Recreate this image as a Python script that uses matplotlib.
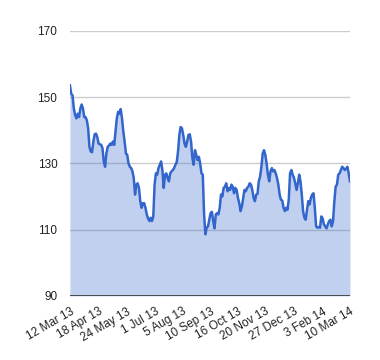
import matplotlib
matplotlib.use("Agg")
import matplotlib.pyplot as plt
import pandas as pd

plt.rcParams['font.family'] = ['Liberation Sans', 'DejaVu Sans']

# price readings, 12 Mar 2013 .. 10 Mar 2014, roughly evenly spaced
prices = [
    153.6, 151, 150.6, 146.6, 144.6, 143.6, 145, 144, 146.6, 147.8, 146.6, 144,
    144, 143, 140.6, 135, 133.6, 133.4, 136.6, 138.8, 139, 138, 136, 135.8,
    135.6, 134.6, 130.6, 129, 133, 135, 135.4, 136,
    135.6, 136.6, 135.6, 139.6, 143.6, 145.6, 145, 146.4, 143.6, 139.6, 136.6,
    133, 132.6, 130, 129, 128.6, 127.6, 125.6, 120.6, 123.6, 124, 122.6, 118.6,
    116.6, 118, 118, 116.6, 114.6, 113.4, 112.6, 113.6,
    112.6, 114, 123.6, 127, 126.6, 128.6, 129.6, 130.6, 128, 122.6, 126.6, 127,
    125.6, 124.6, 127, 127.6, 128, 128.6, 129.6, 130.4, 133.6, 138.6, 141,
    140.6, 138.6, 136, 135, 136.6, 138.6, 138.8, 136.6, 131.6,
    129.6, 134, 132.6, 131, 132, 130, 127, 126.6, 114.6, 108.6, 110.6, 111,
    113, 115, 115.4, 112.6, 110.4, 114.6, 115, 114.6, 116.6, 120.6, 120, 122.6,
    123, 124, 121.6, 122.6, 122, 123.6, 123, 121,
    122.6, 122, 119.6, 118, 115.6, 117, 119.6, 122, 121.6, 122.6, 123, 124,
    123.6, 122, 119.6, 118.6, 120.6, 120.8, 124.6, 126, 129, 133, 134, 132.6,
    130, 126.6, 124.6, 127.6, 128.6, 127.6, 128,
    127, 125.6, 123.6, 120.6, 119, 118.8, 116.6, 115.6, 116.6, 116, 119, 127,
    128, 126.6, 125.6, 124, 122, 124, 126.6, 124.6, 120.6, 115.6, 113.6, 113,
    116, 118.6, 117.6, 119.6, 120.6, 121, 116.6,
    111, 110.6, 110.8, 110.6, 114, 113.4, 111.6, 111, 110.4, 111.6, 112.6, 113,
    111, 112.6, 118.6, 123, 123.6, 126.6, 127, 128, 129, 128.6, 128, 128.4,
    129, 127, 124.6,
]
dates = pd.date_range('2013-03-12', '2014-03-10', periods=len(prices))

tick_dates = pd.to_datetime([
    '2013-03-12', '2013-04-18', '2013-05-24', '2013-07-01', '2013-08-05',
    '2013-09-10', '2013-10-16', '2013-11-20', '2013-12-27', '2014-02-03',
    '2014-03-10',
])
tick_labels = ['12 Mar 13', '18 Apr 13', '24 May 13', '1 Jul 13', '5 Aug 13',
               '10 Sep 13', '16 Oct 13', '20 Nov 13', '27 Dec 13', '3 Feb 14',
               '10 Mar 14']
y_ticks = [90, 110, 130, 150, 170]

fig = plt.figure(figsize=(3.8, 3.6), dpi=100)
ax = fig.add_axes([0.184, 0.178, 0.737, 0.736])

for y in y_ticks[1:]:
    ax.axhline(y, color='#cccccc', lw=1, zorder=1)
ax.fill_between(dates, prices, 90, color='#3366cc', alpha=0.3, lw=0, zorder=2)
ax.plot(dates, prices, color='#3366cc', lw=1.8, zorder=3)
ax.axhline(90, color='#333333', lw=1.2, zorder=4)

ax.set_ylim(90, 170)
ax.set_xlim(dates[0], dates[-1])
ax.set_yticks(y_ticks)
ax.set_xticks(tick_dates)
ax.set_xticklabels(tick_labels, rotation=30, ha='right', va='top',
                   rotation_mode='anchor')
ax.tick_params(axis='both', length=0, labelsize=8.5, colors='#222222')
ax.tick_params(axis='y', pad=9)
ax.tick_params(axis='x', pad=7)
for s in ax.spines.values():
    s.set_visible(False)

fig.savefig('out.png', dpi=100)
